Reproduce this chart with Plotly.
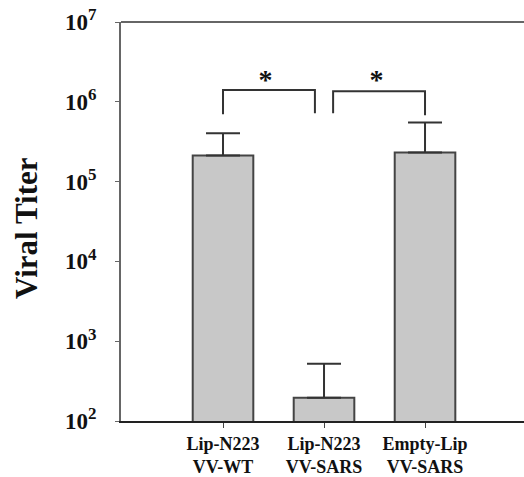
import plotly.graph_objects as go

# ---- data ----
categories = ["Lip-N223<br>VV-WT", "Lip-N223<br>VV-SARS", "Empty-Lip<br>VV-SARS"]
titer_mean = [2.13e5, 195, 2.32e5]
titer_err_up = [1.9e5, 325, 3.2e5]  # upper error (top at ~4.0e5, ~520, ~5.5e5)

ytick_vals = [1e2, 1e3, 1e4, 1e5, 1e6, 1e7]
ytick_exps = ["2", "3", "4", "5", "6", "7"]
ytick_text = ['10<sup><span style="font-size:17px">%s</span></sup>' % e for e in ytick_exps]

# significance brackets (x in category units, y in titer)
bracket1_x = [0.0, 0.0, 0.91, 0.91]
bracket1_y = [7.0e5, 1.41e6, 1.41e6, 7.2e5]
bracket2_x = [1.09, 1.09, 2.0, 2.0]
bracket2_y = [7.2e5, 1.36e6, 1.36e6, 6.8e5]
star_x = [0.42, 1.52]
star_y = [1.75e6, 1.75e6]
star_text = ["*", "*"]

xpos = [0, 1, 2]

SERIF = "Liberation Serif, Times New Roman, serif"
DARK = "#333333"

fig = go.Figure()
fig.add_trace(go.Bar(
    x=xpos, y=titer_mean, width=0.6,
    marker=dict(color="#c8c8c8", line=dict(color="#444444", width=2)),
    error_y=dict(type="data", symmetric=False, array=titer_err_up,
                 arrayminus=[0, 0, 0], color=DARK, thickness=2, width=17),
    showlegend=False,
))
for bx, by in [(bracket1_x, bracket1_y), (bracket2_x, bracket2_y)]:
    fig.add_trace(go.Scatter(x=bx, y=by, mode="lines",
                             line=dict(color=DARK, width=2),
                             showlegend=False, hoverinfo="skip"))
fig.add_trace(go.Scatter(x=star_x, y=star_y, mode="text", text=star_text,
                         textposition="middle center",
                         textfont=dict(family=SERIF, size=28, color="#111111", weight="bold"),
                         showlegend=False, hoverinfo="skip"))

fig.update_layout(
    width=524, height=477,
    margin=dict(l=121, r=0, t=22, b=52),
    plot_bgcolor="white", paper_bgcolor="white",
    font=dict(family=SERIF, color="#111111"),
    xaxis=dict(
        range=[-1.01, 2.98], tickmode="array", tickvals=xpos, ticktext=categories,
        showgrid=False, zeroline=False, showline=True, linecolor="#222222", linewidth=2,
        ticks="outside", ticklen=5, tickcolor="#444444", tickwidth=1,
        tickfont=dict(family=SERIF, size=18, color="#111111", weight="bold"),
    ),
    yaxis=dict(
        type="log", range=[2, 7], tickmode="array", tickvals=ytick_vals, ticktext=ytick_text,
        showgrid=False, zeroline=False, showline=True, linecolor="#666666", linewidth=2,
        ticks="outside", ticklen=4, tickcolor="#666666", tickwidth=1,
        tickfont=dict(family=SERIF, size=23, color="#111111", weight="bold"),
        ticklabelstandoff=14,
    ),
    shapes=[dict(type="line", xref="paper", yref="paper", x0=0, x1=1, y0=1, y1=1,
                 line=dict(color="#666666", width=2))],
    annotations=[dict(text="<b>Viral Titer</b>", xref="paper", yref="paper",
                      x=-0.233, y=0.484, xanchor="center", yanchor="middle",
                      textangle=-90, showarrow=False,
                      font=dict(family=SERIF, size=31, color="#111111"))],
)

fig.write_html("out.html", config={"displayModeBar": False},
               post_script="document.body.style.margin='0';")
